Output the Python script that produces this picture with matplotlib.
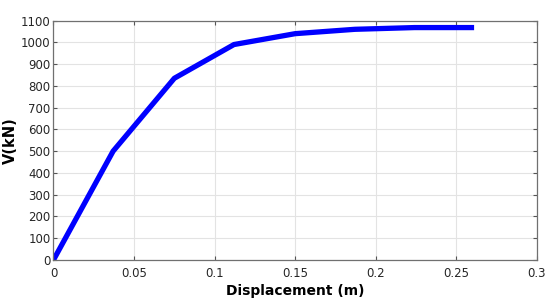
import numpy as np
import matplotlib.pyplot as plt

# pushover curve
disp = [0.0, 0.037, 0.075, 0.112, 0.150, 0.187, 0.224, 0.261]
shear = [0, 500, 835, 990, 1040, 1060, 1068, 1068]

xticks = [0, 0.05, 0.1, 0.15, 0.2, 0.25, 0.3]
xticklabels = ['0', '0.05', '0.1', '0.15', '0.2', '0.25', '0.3']
yticks = list(range(0, 1101, 100))

plt.rcParams['font.family'] = ['DejaVu Sans']

fig = plt.figure(figsize=(5.57, 3.03), dpi=100)
ax = fig.add_axes([0.096, 0.142, 0.868, 0.790])

ax.plot(disp, shear, color='#0000ff', linewidth=3.8, solid_capstyle='butt')

ax.set_xlim(0, 0.3)
ax.set_ylim(0, 1100)
ax.set_xticks(xticks)
ax.set_xticklabels(xticklabels)
ax.set_yticks(yticks)
ax.grid(True, color='#e3e3e3', linewidth=0.8)
ax.set_axisbelow(True)
ax.tick_params(direction='in', top=True, right=True, length=3,
               labelsize=8.5, color='#555555', labelcolor='#262626')
ax.tick_params(axis='x', pad=5)
ax.tick_params(axis='y', pad=2)
for s in ax.spines.values():
    s.set_color('#707070')
    s.set_linewidth(0.9)

ax.set_xlabel('Displacement (m)', fontsize=10, fontweight='bold', labelpad=3)
ax.set_ylabel('V(kN)', fontsize=10.5, fontweight='bold', labelpad=2)

fig.savefig('out.png', dpi=100)
